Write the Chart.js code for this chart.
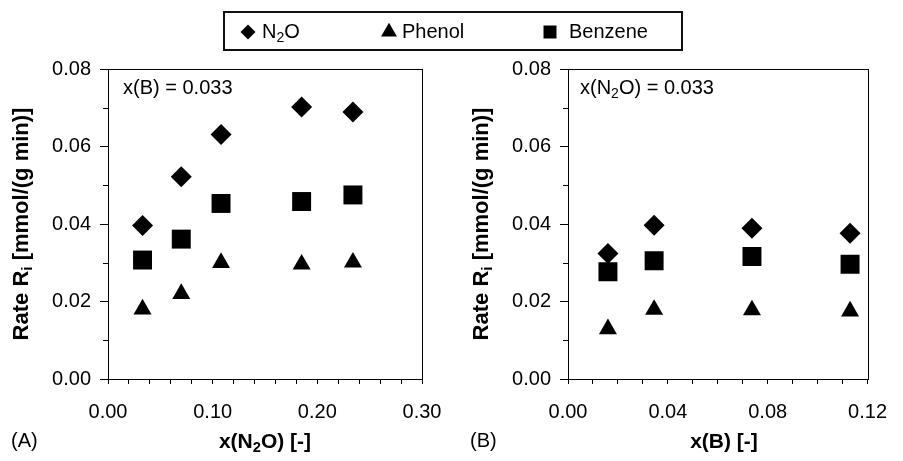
<!DOCTYPE html>
<html>
<head>
<meta charset="utf-8">
<script src="https://cdn.jsdelivr.net/npm/chart.js@4.4.1/dist/chart.umd.min.js"></script>
<style>
  body { margin: 0; background: #fff; font-family: "Liberation Sans", Arial, sans-serif; }
  #wrap { position: relative; width: 903px; height: 461px; overflow: hidden; background: #fff; }
  #wrap canvas { position: absolute; top: 0; }
  .txt { position: absolute; white-space: nowrap; color: #000; line-height: 1; font-size: 20px; }
  .bold { font-weight: bold; font-size: 21px; }
  sub { font-size: 0.7em; line-height: 0; vertical-align: -0.25em; }
  #legend { position: absolute; left: 223px; top: 11px; width: 456px; height: 36px; border: 2px solid #111; }
  .ytitle { width: 300px; text-align: center; transform: rotate(-90deg); font-size: 22px; }
  .xtitle { width: 200px; text-align: center; }
</style>
</head>
<body>
<div id="wrap">
  <canvas id="chartA" width="460" height="461" style="left:0"></canvas>
  <canvas id="chartB" width="443" height="461" style="left:460px"></canvas>

  <div id="legend"></div>

  <div class="txt ytitle bold" style="left:-129px; top:213px">Rate R<sub>i</sub> [mmol/(g min)]</div>
  <div class="txt ytitle bold" style="left:331px; top:213px">Rate R<sub>i</sub> [mmol/(g min)]</div>

  <div class="txt" style="left:123px; top:77px">x(B) = 0.033</div>
  <div class="txt" style="left:580px; top:77px">x(N<sub>2</sub>O) = 0.033</div>

  <div class="txt xtitle bold" style="left:165px; top:430px">x(N<sub>2</sub>O) [-]</div>
  <div class="txt xtitle bold" style="left:624px; top:430px">x(B) [-]</div>
  <div class="txt" style="left:11px; top:430px">(A)</div>
  <div class="txt" style="left:470px; top:430px">(B)</div>
</div>

<script>
// panel A: rates vs. N2O fraction at x(B) = 0.033
const xN2O = [0.033, 0.070, 0.108, 0.185, 0.234];
const n2oA = [0.0396, 0.0522, 0.0631, 0.0702, 0.0689];
const phenolA = [0.0180, 0.0220, 0.0300, 0.0296, 0.0301];
const benzeneA = [0.0307, 0.0361, 0.0453, 0.0458, 0.0475];

// panel B: rates vs. benzene fraction at x(N2O) = 0.033
const xBenz = [0.016, 0.0345, 0.0737, 0.113];
const n2oB = [0.0324, 0.0397, 0.0389, 0.0376];
const phenolB = [0.0129, 0.0179, 0.0178, 0.0175];
const benzeneB = [0.0277, 0.0305, 0.0316, 0.0296];

const seriesNames = ['N<sub>2</sub>O', 'Phenol', 'Benzene'];
const markers = [
    { pointStyle: 'rectRot', radius: 10.5, legendRadius: 7.5 },
    { pointStyle: 'triangle', radius: 10.4, legendRadius: 9.2 },
    { pointStyle: 'rect', radius: 13.4, legendRadius: 9.2 }
];

const yTicks = [0, 0.02, 0.04, 0.06, 0.08];
const xTicksA = [0, 0.10, 0.20, 0.30];
const xTicksB = [0, 0.04, 0.08, 0.12];

const tickFont = { family: "'Liberation Sans', Arial, sans-serif", size: 20 };

// box around plot area + short minor ticks on the y axis
const frame = {
    id: 'frame',
    afterDraw(chart) {
        const { ctx, chartArea: a } = chart;
        const ys = chart.scales.y;
        ctx.save();
        ctx.strokeStyle = '#000';
        ctx.lineWidth = 1;
        ctx.strokeRect(Math.round(a.left) + 0.5, Math.round(a.top) + 0.5,
            Math.round(a.right - a.left), Math.round(a.bottom - a.top));
        ctx.beginPath();
        ys.ticks.forEach((t, i) => {
            if (i % 2 === 0) return;
            const py = Math.round(ys.getPixelForValue(t.value)) + 0.5;
            ctx.moveTo(a.left - 5, py);
            ctx.lineTo(a.left, py);
        });
        ctx.stroke();
        ctx.restore();
    }
};

function makePanel(id, xs, n2o, phenol, benzene, xMax, xStep, xLabels, rightPad) {
    const pts = ys => xs.map((x, i) => ({ x: x, y: ys[i] }));
    const sets = [n2o, phenol, benzene].map((ys, k) => ({
        label: seriesNames[k],
        data: pts(ys),
        pointStyle: markers[k].pointStyle,
        pointRadius: markers[k].radius,
        pointHoverRadius: markers[k].radius,
        backgroundColor: '#000',
        borderColor: '#000',
        borderWidth: 0
    }));
    const isLabel = (v, list) => list.some(t => Math.abs(t - v) < 1e-9);

    return new Chart(document.getElementById(id), {
        type: 'scatter',
        data: { datasets: sets },
        options: {
            responsive: false,
            animation: false,
            devicePixelRatio: 1,
            layout: { padding: { top: 69, right: rightPad, left: 0, bottom: 0 } },
            plugins: { legend: { display: false }, tooltip: { enabled: false } },
            scales: {
                x: {
                    type: 'linear', min: 0, max: xMax,
                    ticks: {
                        stepSize: xStep, autoSkip: false, maxRotation: 0, minRotation: 0,
                        padding: 16, color: '#000', font: tickFont,
                        callback: v => isLabel(v, xLabels) ? v.toFixed(2) : ''
                    },
                    grid: { drawOnChartArea: false, tickLength: 5, tickColor: '#000' },
                    border: { color: '#000', width: 1 },
                    afterFit: s => { s.height = 82; }
                },
                y: {
                    type: 'linear', min: 0, max: 0.08,
                    ticks: {
                        stepSize: 0.01, autoSkip: false, padding: 9, color: '#000', font: tickFont,
                        callback: v => isLabel(v, yTicks) ? v.toFixed(2) : ''
                    },
                    grid: {
                        drawOnChartArea: false, tickLength: 8,
                        tickColor: c => c.index % 2 === 0 ? '#000' : 'rgba(0,0,0,0)'
                    },
                    border: { color: '#000', width: 1 },
                    afterFit: s => { s.width = 108; }
                }
            }
        },
        plugins: [frame]
    });
}

makePanel('chartA', xN2O, n2oA, phenolA, benzeneA, 0.30, 0.02, xTicksA, 38);
makePanel('chartB', xBenz, n2oB, phenolB, benzeneB, 0.12, 0.01, xTicksB, 23);

// shared legend across both panels
const legend = document.getElementById('legend');
const legendPos = [{ mark: 23, text: 37 }, { mark: 163.5, text: 177 }, { mark: 325, text: 344 }];
markers.forEach((m, k) => {
    const c = document.createElement('canvas');
    c.width = 24; c.height = 24;
    c.style.position = 'absolute';
    c.style.left = (legendPos[k].mark - 12) + 'px';
    c.style.top = (19 - 12) + 'px';
    const g = c.getContext('2d');
    g.fillStyle = '#000';
    g.strokeStyle = '#000';
    Chart.helpers.drawPoint(g, { pointStyle: m.pointStyle, radius: m.legendRadius, rotation: 0, borderWidth: 0 }, 12, 12);
    legend.appendChild(c);

    const t = document.createElement('div');
    t.className = 'txt';
    t.style.left = legendPos[k].text + 'px';
    t.style.top = '8px';
    t.innerHTML = seriesNames[k];
    legend.appendChild(t);
});
</script>
</body>
</html>
